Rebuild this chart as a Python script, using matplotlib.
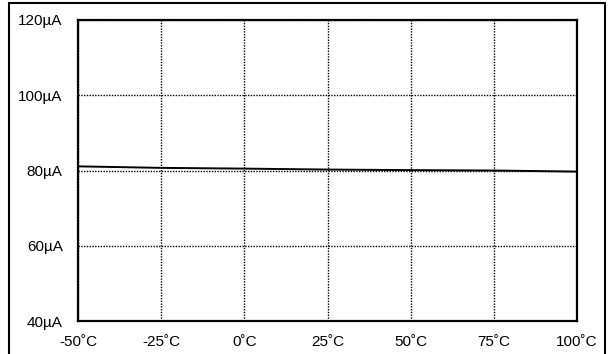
import matplotlib
matplotlib.use("Agg")
from matplotlib import pyplot as plt
from matplotlib.patches import Rectangle

# temperature (C) vs current (uA)
temps = [-50, -25, 0, 25, 50, 75, 100]
current = [81.1, 80.7, 80.5, 80.25, 80.1, 80.0, 79.7]
yticks = [40, 60, 80, 100, 120]

plt.rcParams['font.family'] = ['Liberation Sans', 'DejaVu Sans']

fig = plt.figure(figsize=(6.15, 3.54), dpi=100)
ax = fig.add_axes([78 / 615, 33 / 354, 499 / 615, 301 / 354])

ax.plot(temps, current, color="black", lw=1.4)

ax.set_xlim(-50, 100)
ax.set_ylim(40, 120)
ax.set_xticks(temps)
ax.set_xticklabels([str(t) + "\u02daC" for t in temps])
ax.set_yticks(yticks)
ax.set_yticklabels([str(v) + "\u00b5A" for v in yticks])
ax.tick_params(length=0, labelsize=11)
ax.tick_params(axis="y", pad=11)
ax.tick_params(axis="x", pad=10)
ax.grid(True, color="black", linestyle=(0, (1, 1)), lw=1.0)
for sp in ax.spines.values():
    sp.set_linewidth(1.6)

# outer frame
fig.patches.append(Rectangle((9 / 615, -0.05), 596 / 615, 1.05 - 3 / 354,
                             transform=fig.transFigure, fill=False,
                             edgecolor="black", lw=1.5))

fig.savefig("out.png", dpi=100)
